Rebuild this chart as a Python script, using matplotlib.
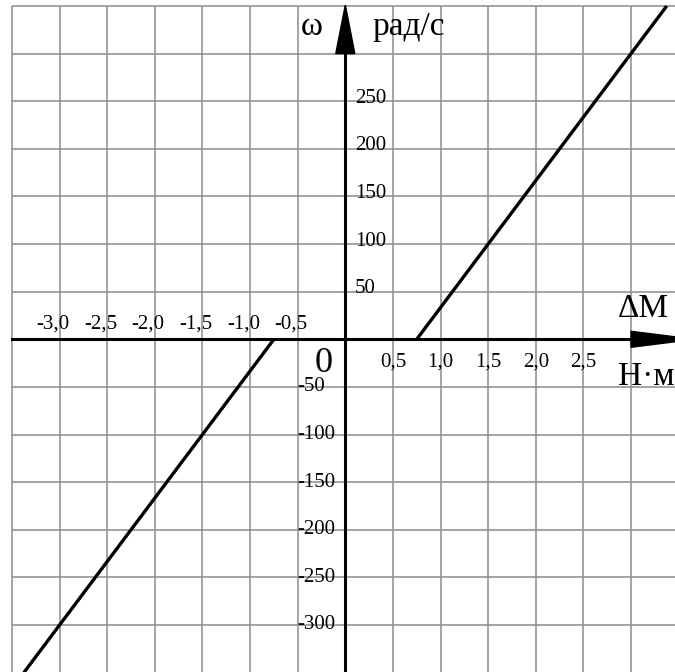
import numpy as np
import matplotlib
matplotlib.use('Agg')
import matplotlib.pyplot as plt
from matplotlib.patches import Polygon

plt.rcParams['font.family'] = ['Liberation Serif', 'DejaVu Serif']

# characteristic branches (dM in N*m, omega in rad/s)
torque_right = [0.75, 3.375]
speed_right = [0, 350]
torque_left = [-0.75, -3.375]
speed_left = [0, -350]

# tick labels
x_neg_ticks = [-3.0, -2.5, -2.0, -1.5, -1.0, -0.5]
x_neg_labels = ['-3,0', '-2,5', '-2,0', '-1,5', '-1,0', '-0,5']
x_pos_ticks = [0.5, 1.0, 1.5, 2.0, 2.5]
x_pos_labels = ['0,5', '1,0', '1,5', '2,0', '2,5']
y_pos_ticks = [50, 100, 150, 200, 250]
y_neg_ticks = [-50, -100, -150, -200, -250, -300]

fig = plt.figure(figsize=(6.75, 6.72), dpi=100)
ax = fig.add_axes([0, 0, 1, 1])
ax.set_xlim(-3.626, 3.462)
ax.set_ylim(-349.4, 356.3)
ax.axis('off')

# grid
grid_kw = dict(color='#8c8c8c', linewidth=1.1, zorder=1)
ax.vlines(np.arange(-3.5, 3.01, 0.5), -360, 350, **grid_kw)
ax.hlines(np.arange(-300, 351, 50), -3.5, 3.6, **grid_kw)

# axes
ax.plot([-3.5, 3.0], [0, 0], color='black', linewidth=2.2, zorder=3)
ax.plot([0, 0], [-360, 300], color='black', linewidth=2.2, zorder=3)
ax.add_patch(Polygon([[3.0, -8.4], [3.0, 8.4], [3.67, 0]], closed=True,
                     color='black', zorder=3))
ax.add_patch(Polygon([[-0.1, 300], [0.1, 300], [0.0, 351]], closed=True,
                     color='black', zorder=3))

# characteristic
ax.plot(torque_right, speed_right, color='black', linewidth=2.4,
        solid_capstyle='butt', zorder=4)
ax.plot(torque_left, speed_left, color='black', linewidth=2.4,
        solid_capstyle='butt', zorder=4)

# tick labels
fs = 15
for x, lab in zip(x_neg_ticks, x_neg_labels):
    ax.text(x - 0.07, 11.8, lab, ha='center', va='baseline', fontsize=fs, zorder=5)
for x, lab in zip(x_pos_ticks, x_pos_labels):
    ax.text(x, -29, lab, ha='center', va='baseline', fontsize=fs, zorder=5)
for y in y_pos_ticks:
    ax.text(0.10, y + 3, str(y), ha='left', va='center', fontsize=fs, zorder=5)
for y in y_neg_ticks:
    ax.text(-0.5, y, str(y), ha='left', va='center', fontsize=fs, zorder=5)

# axis names
ax.text(-0.35, 319.5, 'ω', ha='center', va='baseline', fontsize=24)
ax.text(0.28, 319.5, 'рад/с', ha='left', va='baseline', fontsize=24)
ax.text(2.86, 23.4, 'ΔM', ha='left', va='baseline', fontsize=24)
ax.text(2.86, -48, 'Н·м', ha='left', va='baseline', fontsize=24)
ax.text(-0.23, -34, '0', ha='center', va='baseline', fontsize=26)

fig.savefig('out.png', dpi=100, facecolor='white')
